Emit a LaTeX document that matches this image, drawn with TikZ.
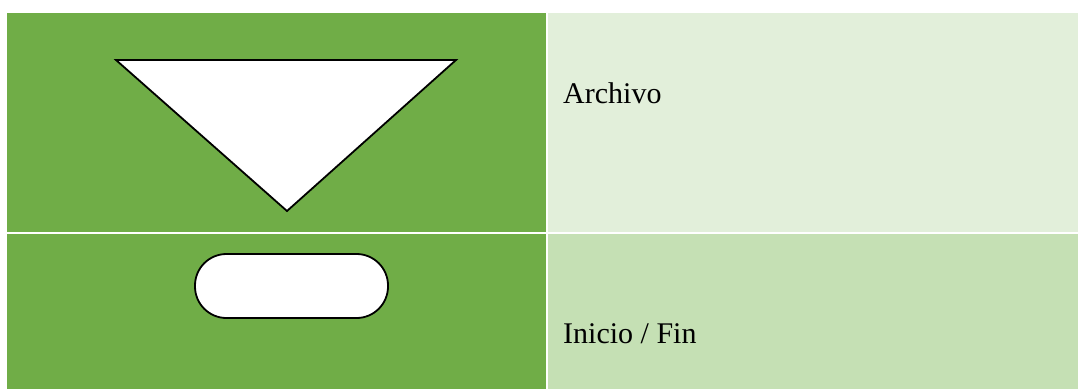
\documentclass[tikz,border=0pt]{standalone}
\usepackage{fontspec}
\setmainfont{Liberation Serif}
\definecolor{dkgreen}{HTML}{70AD47}
\definecolor{ltgreenA}{HTML}{E2EFDA}
\definecolor{ltgreenB}{HTML}{C5E0B4}
\tikzset{
  symbol/.style={draw=black, fill=white, line width=1.8pt, line join=miter},
  label/.style={anchor=base west, inner sep=0pt, font=\fontsize{30}{36}\selectfont}
}
\begin{document}
\begin{tikzpicture}[x=1pt,y=-1pt]
\useasboundingbox (0,0) rectangle (1078,389);
\fill[white] (0,0) rectangle (1078,389);
% cells
\fill[dkgreen] (7,13) rectangle (546,232);
\fill[ltgreenA] (548,13) rectangle (1078,232);
\fill[dkgreen] (7,234) rectangle (546,389);
\fill[ltgreenB] (548,234) rectangle (1078,389);
% symbols
\draw[symbol] (116,60) -- (456,60) -- (287,211) -- cycle;
\draw[symbol, rounded corners=31.5pt] (195,254) rectangle (388,318);
% labels
\node[label] (archivo) at (563,103) {Archivo};
\node[label] (inicio) at (563,343) {Inicio / Fin};
\end{tikzpicture}
\end{document}
